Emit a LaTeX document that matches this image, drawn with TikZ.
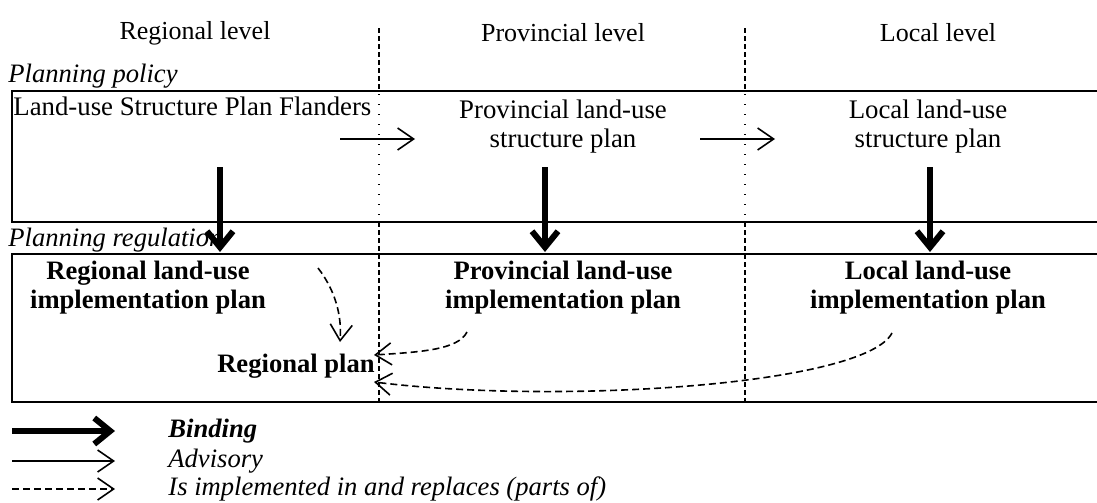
\documentclass[tikz,border=0pt]{standalone}
\usepackage{fontspec}
\setmainfont{Liberation Serif}
\usetikzlibrary{arrows.meta,positioning}
\tikzset{
    >={Straight Barb[length=8pt,width=11pt]},
    frame/.style={draw, line width=1.1pt},
    plan/.style={
        align=center,
        inner sep=0pt,
        font=\fontsize{13.4}{14.5}\selectfont
    },
    level/.style={plan, font=\fontsize{13}{14.5}\selectfont},
    impl/.style={plan, font=\fontsize{13.3}{14.5}\selectfont\bfseries},
    tag/.style={anchor=west, inner sep=0pt, font=\fontsize{13.3}{14.5}\selectfont\itshape},
    binding/.style={->, line width=3pt, >={Straight Barb[length=8pt,width=13pt]}},
    advisory/.style={->, line width=0.8pt},
    replaces/.style={->, line width=0.8pt, dash pattern=on 3.5pt off 2pt},
    divider/.style={line width=0.6pt, dash pattern=on 2.5pt off 1.5pt},
    divdots/.style={line width=0.7pt, dash pattern=on 0.7pt off 4.3pt}
}

\begin{document}
\begin{tikzpicture}[x=0.5pt, y=-0.5pt]
\useasboundingbox (0,0) rectangle (1097,503);

% levels
\node[level] (hreg) at (195,33) {Regional level};
\node[level] (hprov) at (563,33) {Provincial level};
\node[level] (hloc) at (938,33) {Local level};

% column dividers
\foreach \x in {379,745} {
    \draw[divider] (\x,28) -- (\x,91);
    \draw[divdots] (\x,94) -- (\x,222);
    \draw[divider] (\x,222) -- (\x,404);
}

% the two bands
\draw[frame] (12,91) rectangle (1110,222);
\draw[frame] (12,254) rectangle (1110,402);

\node[tag] (policy) at (8,76) {Planning policy};
\node[tag] (regulation) at (8,240) {Planning regulation};

% structure plans
\node[plan, anchor=west] (lspf) at (13,106) {Land-use Structure Plan Flanders};
\node[plan] (pssp) at (563,127) {Provincial land-use\\structure plan};
\node[plan] (lssp) at (928,127) {Local land-use\\structure plan};

% implementation plans
\node[impl] (riep) at (148,288) {Regional land-use\\implementation plan};
\node[impl] (piep) at (563,288) {Provincial land-use\\implementation plan};
\node[impl] (liep) at (928,288) {Local land-use\\implementation plan};
\node[impl] (rplan) at (296,366) {Regional plan};

\coordinate (a1) at (340,139);
\coordinate (a1e) at (415,139);
\coordinate (a2) at (700,139);
\coordinate (a2e) at (775,139);
\draw[advisory] (a1) -- (a1e);
\draw[advisory] (a2) -- (a2e);

\coordinate (b1) at (220,167);
\coordinate (b1e) at (220,252);
\coordinate (b2) at (545,167);
\coordinate (b2e) at (545,252);
\coordinate (b3) at (930,167);
\coordinate (b3e) at (930,252);
\draw[binding] (b1) -- (b1e);
\draw[binding] (b2) -- (b2e);
\draw[binding] (b3) -- (b3e);

\coordinate (r1) at (318,268);
\coordinate (r1e) at (340,342);
\coordinate (r2) at (467,332);
\coordinate (r2e) at (374,355);
\coordinate (r3) at (892,333);
\coordinate (r3e) at (374,382);
\draw[replaces] (r1) .. controls (335,290) and (342,315) .. (r1e);
\draw[replaces] (r2) .. controls (458,350) and (420,352) .. (r2e);
\draw[replaces] (r3) .. controls (865,385) and (560,405) .. (r3e);

% key
\coordinate (k1) at (12,431);
\coordinate (k1e) at (115,431);
\coordinate (k2) at (12,461);
\coordinate (k2e) at (115,461);
\coordinate (k3) at (12,489);
\coordinate (k3e) at (115,489);
\draw[binding] (k1) -- (k1e);
\draw[advisory] (k2) -- (k2e);
\draw[replaces] (k3) -- (k3e);
\node[tag, font=\fontsize{13.3}{14.5}\selectfont\bfseries\itshape] (kbind) at (168,431) {Binding};
\node[tag] (kadv) at (168,461) {Advisory};
\node[tag] (krepl) at (168,489) {Is implemented in and replaces (parts of)};

\end{tikzpicture}
\end{document}
